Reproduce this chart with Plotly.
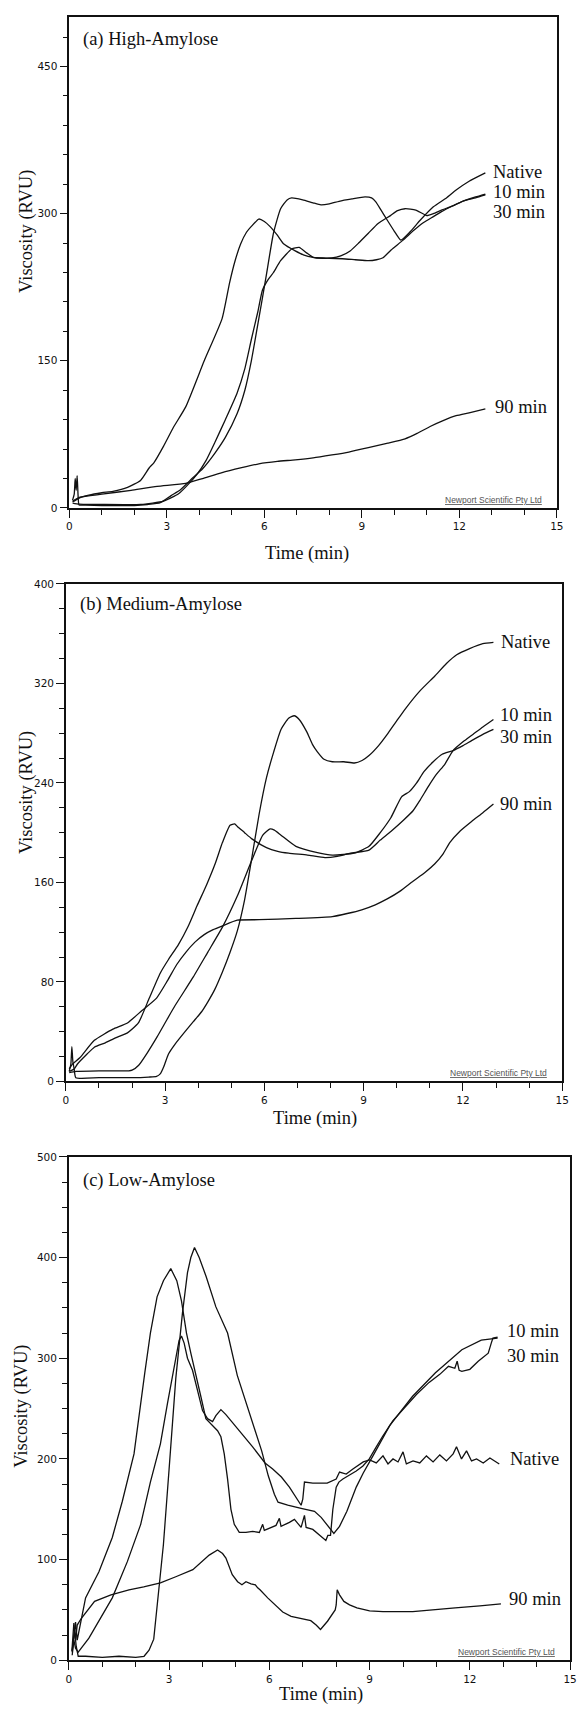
import plotly.graph_objects as go

W, H = 584, 1709

# ---------------- Panel (a) High-Amylose ----------------
A_NATIVE_T = [0.1, 0.15, 0.18, 0.21, 0.24, 0.27, 0.3, 0.5, 1.0, 2.0, 2.4, 2.8, 3.13, 3.4, 3.8, 4.1, 4.48, 4.8, 5.16, 5.4, 5.6, 5.83, 6.06, 6.28, 6.5, 6.7, 6.84, 7.18, 7.5, 7.74, 8.0, 8.3, 8.7, 9.1, 9.3, 9.43, 9.6, 9.76, 10.0, 10.2, 10.5, 10.78, 11.2, 11.6, 11.9, 12.3, 12.8]
A_NATIVE_V = [8, 14, 30, 18, 33, 12, 3, 3, 2.5, 2.5, 3.5, 5.4, 12.6, 18, 30.7, 40, 56, 72, 96, 120, 150, 193, 237, 280, 305, 314, 316, 314, 311, 309, 310, 312.6, 315, 317, 316, 312, 303, 294.5, 282, 273, 282, 292.7, 307, 316, 324, 333, 341.5]
A_10_T = [0.1, 0.3, 0.6, 1.0, 1.34, 1.79, 2.19, 2.46, 2.6, 2.9, 3.2, 3.58, 4.15, 4.7, 4.93, 5.1, 5.27, 5.45, 5.6, 5.83, 6.0, 6.17, 6.4, 6.6, 6.95, 7.2, 7.5, 8.0, 8.4, 8.8, 9.2, 9.45, 9.65, 9.9, 10.27, 10.6, 10.9, 11.2, 11.45, 11.8, 12.1, 12.5, 12.8]
A_10_V = [6, 10, 13, 15.5, 17, 21, 28, 41, 46, 63, 82, 103, 150, 193, 229.5, 252, 269, 281, 287, 294.5, 292, 287, 278, 269, 262, 258, 255.5, 254.5, 254, 253, 252, 253, 255, 263, 273, 283, 291, 297, 302, 308, 312.6, 317, 320]
A_30_T = [0.1, 0.3, 1.0, 2.2, 2.9, 3.36, 3.6, 3.92, 4.2, 4.48, 4.8, 5.16, 5.4, 5.6, 5.8, 5.94, 6.1, 6.28, 6.5, 6.84, 7.07, 7.3, 7.5, 7.8, 8.08, 8.35, 8.64, 8.9, 9.2, 9.5, 9.88, 10.1, 10.33, 10.66, 11.0, 11.2, 11.45, 11.8, 12.1, 12.5, 12.8]
A_30_V = [5, 4, 3.6, 3.6, 7, 14.5, 22, 34, 48, 67, 90, 117, 142, 171.7, 200, 222, 232, 240, 252, 264, 265.6, 260, 255.5, 254.5, 254.8, 257, 262, 270, 280, 290, 298, 303, 305, 303.6, 298, 300, 303.6, 308, 312.6, 316, 319]
A_90_T = [0.1, 0.33, 1.0, 1.9, 2.7, 3.58, 4.1, 4.7, 5.3, 5.83, 6.4, 6.95, 7.5, 8.08, 8.6, 9.2, 9.8, 10.33, 10.7, 11.1, 11.5, 11.9, 12.3, 12.8]
A_90_V = [7, 11, 14, 18, 22, 25, 30, 36, 41, 45, 47.5, 49, 51, 54, 57, 61.4, 66, 70.5, 76, 83, 89, 94, 97, 101]

# ---------------- Panel (b) Medium-Amylose ----------------
B_NATIVE_T = [0.1, 0.15, 0.18, 0.21, 0.25, 0.3, 1.0, 2.0, 2.5, 2.74, 2.85, 2.96, 3.1, 3.3, 3.6, 3.85, 4.1, 4.29, 4.5, 4.73, 4.95, 5.18, 5.4, 5.62, 5.84, 6.06, 6.28, 6.5, 6.73, 6.9, 7.05, 7.28, 7.45, 7.6, 7.8, 8.05, 8.4, 8.72, 8.95, 9.16, 9.45, 9.71, 10.0, 10.27, 10.7, 11.15, 11.5, 11.81, 12.2, 12.6, 12.92]
B_NATIVE_V = [8, 14, 28, 16, 10, 3, 3, 3, 3.5, 4, 6, 12, 22, 30, 40, 48, 56, 64, 74, 88, 103, 121, 146, 180, 215, 244, 265, 283, 292, 294, 291, 281, 271, 265, 259, 257, 257, 256, 258, 262, 270, 279, 290, 300, 314, 326, 336, 343, 348, 352, 353]
B_10_T = [0.1, 0.25, 0.35, 0.64, 0.86, 1.19, 1.5, 1.86, 2.19, 2.52, 2.85, 3.1, 3.4, 3.7, 3.96, 4.25, 4.51, 4.73, 4.96, 5.1, 5.18, 5.4, 5.62, 6.06, 6.4, 6.73, 7.3, 7.83, 8.2, 8.6, 9.16, 9.5, 9.82, 10.2, 10.49, 10.7, 10.95, 11.2, 11.45, 11.7, 12.0, 12.3, 12.6, 12.92]
B_10_V = [8, 10, 14, 22, 27.5, 31, 35, 39, 47, 67, 87, 98, 110, 125, 141, 158, 175, 192, 206, 207, 205, 200, 195, 188, 185, 183.5, 182, 180, 181, 183.5, 186, 194, 201, 210, 217.6, 226, 237, 247, 255, 266, 273, 279, 285, 291]
B_30_T = [0.1, 0.3, 1.0, 1.9, 2.0, 2.2, 2.46, 2.76, 3.06, 3.3, 3.85, 4.29, 4.73, 5.18, 5.62, 5.95, 6.17, 6.3, 6.5, 6.95, 7.6, 8.05, 8.72, 9.16, 9.5, 9.82, 10.15, 10.38, 10.6, 10.82, 11.1, 11.37, 11.7, 12.0, 12.26, 12.6, 12.92]
B_30_V = [7, 8, 8.5, 8.5, 9, 13, 23, 36, 50, 61, 84, 104, 124, 149, 178, 198, 203, 202, 198, 189, 184, 182, 183.5, 189, 200, 212, 229, 233, 240, 249, 257, 263, 266, 270, 274, 279, 283]
B_90_T = [0.1, 0.2, 0.42, 0.86, 1.42, 1.86, 2.3, 2.74, 3.07, 3.35, 3.63, 3.9, 4.18, 4.45, 4.73, 5.18, 5.84, 6.95, 8.05, 8.5, 8.94, 9.35, 9.71, 10.1, 10.49, 10.85, 11.15, 11.4, 11.6, 11.9, 12.26, 12.6, 12.92]
B_90_V = [10, 14, 19, 33, 42, 47, 57, 67, 81, 94, 104, 112, 118, 122, 125, 129.6, 130, 131, 132.5, 135, 138, 142, 146.7, 153, 161, 168, 175, 183, 192, 201, 209, 216, 223]

# ---------------- Panel (c) Low-Amylose ----------------
C_NATIVE_T = [0.1, 0.15, 0.2, 0.28, 0.6, 1.0, 1.3, 1.75, 2.15, 2.44, 2.74, 2.95, 3.15, 3.3, 3.37, 3.45, 3.55, 3.7, 3.85, 4.0, 4.15, 4.3, 4.4, 4.55, 4.7, 5.0, 5.2, 5.5, 5.87, 6.1, 6.36, 6.6, 6.95, 7.0, 7.05, 7.3, 7.73, 8.0, 8.1, 8.3, 8.5, 8.7, 8.81, 9.0, 9.2, 9.4, 9.55, 9.7, 9.85, 10.0, 10.1, 10.3, 10.5, 10.7, 10.9, 11.1, 11.3, 11.5, 11.6, 11.75, 11.9, 12.05, 12.2, 12.4, 12.6, 12.88]
C_NATIVE_V = [5, 20, 12, 8, 22, 45, 62, 98, 135, 177, 215, 255, 290, 318, 322, 315, 300, 288, 268, 248, 240, 237, 243, 249, 244, 232, 224, 212, 196, 190, 182, 172, 154, 160, 177, 176, 176, 180, 187, 185, 190, 195, 197, 199, 196, 203, 195, 200, 197, 207, 195, 198, 196, 203, 197, 204, 198, 205, 212, 200, 208, 198, 200, 196, 201, 195]
C_10_T = [0.1, 0.17, 0.22, 0.28, 0.5, 1.0, 1.5, 2.0, 2.25, 2.4, 2.54, 2.69, 2.83, 3.0, 3.2, 3.4, 3.55, 3.65, 3.76, 3.9, 4.11, 4.4, 4.75, 5.04, 5.38, 5.77, 5.97, 6.15, 6.26, 6.55, 6.95, 7.35, 7.55, 7.78, 7.93, 8.1, 8.32, 8.6, 8.81, 9.1, 9.6, 10.28, 10.97, 11.76, 12.34, 12.83]
C_10_V = [10, 30, 14, 4, 4, 3, 4, 3, 4, 10, 21, 70, 115, 190, 280, 345, 385, 400, 410, 400, 381, 351, 325, 283, 247, 208, 183, 165, 157, 154, 151, 148, 142, 133, 126, 133, 148, 172, 186, 203, 233, 262, 285.5, 308.5, 318, 320]
C_30_T = [0.1, 0.2, 0.25, 0.5, 0.9, 1.3, 1.6, 1.95, 2.27, 2.44, 2.64, 2.83, 3.05, 3.23, 3.37, 3.52, 3.65, 3.8, 3.95, 4.1, 4.3, 4.45, 4.55, 4.65, 4.75, 4.85, 4.95, 5.1, 5.3, 5.5, 5.7, 5.8, 5.85, 6.0, 6.2, 6.3, 6.35, 6.6, 6.75, 6.85, 6.95, 7.05, 7.1, 7.3, 7.5, 7.69, 7.75, 7.83, 7.9, 8.0, 8.08, 8.2, 8.4, 8.6, 8.8, 8.99, 9.2, 9.4, 9.7, 10.09, 10.4, 10.78, 11.1, 11.36, 11.55, 11.62, 11.68, 11.76, 12.0, 12.25, 12.45, 12.55, 12.64, 12.69, 12.83]
C_30_V = [8, 38, 20, 62, 88, 122, 158, 205, 285, 325, 361, 377, 389, 377, 357, 325, 305, 285, 262, 240, 233, 228, 222, 205, 180, 150, 135, 127, 127, 128, 127, 135, 129, 131, 134, 141, 133, 137, 140, 136, 132, 144, 132, 130, 124, 119, 124, 124, 150, 172, 177, 180, 184, 188, 193, 200, 212, 223, 238, 253, 264, 276, 284, 292, 290, 297, 288, 287, 289, 297, 302, 305, 315, 320, 321]
C_90_T = [0.09, 0.15, 0.2, 0.25, 0.38, 0.77, 1.26, 1.8, 2.24, 2.74, 3.2, 3.71, 4.2, 4.45, 4.6, 4.7, 4.89, 5.05, 5.18, 5.3, 5.45, 5.58, 5.65, 5.72, 5.95, 6.17, 6.4, 6.65, 7.0, 7.24, 7.4, 7.53, 7.74, 7.97, 8.0, 8.03, 8.1, 8.23, 8.4, 8.62, 9.0, 9.4, 10.29, 11.0, 11.56, 12.3, 12.93]
C_90_V = [9, 37, 20, 35, 42, 58.5, 65, 70, 73, 77, 83, 90, 104.5, 109.5, 106, 101.5, 85, 78, 75, 78, 76, 75, 72, 70, 62, 55, 48, 43.7, 41, 39.4, 35, 30.6, 38.8, 50, 55, 70, 65, 58.5, 55, 52, 49, 48.3, 48.3, 50, 52, 54, 56]

# series labels and their anchor values
A_LABELS = ["Native", "10 min", "30 min", "90 min"]
A_LABEL_T = [12.98, 12.98, 12.98, 13.02]
A_LABEL_V = [342, 322, 302, 103]
B_LABELS = ["Native", "10 min", "30 min", "90 min"]
B_LABEL_T = [13.09, 13.05, 13.05, 13.05]
B_LABEL_V = [353, 295, 277, 223]
C_LABELS = ["10 min", "30 min", "Native", "90 min"]
C_LABEL_T = [13.04, 13.04, 13.15, 13.1]
C_LABEL_V = [327, 302, 200, 61]

PANEL_TITLES = ["(a) High-Amylose", "(b) Medium-Amylose", "(c) Low-Amylose"]
Y_RANGES = [[0, 500], [0, 400], [0, 500]]
Y_DTICK = [150, 80, 100]
Y_MINOR = [30, 20, 25]
X_TICKS = [0, 3, 6, 9, 12, 15]

# pixel layout of each panel: left, right, top, bottom
PANELS_PX = [(67.5, 563.5, 11.5, 505.5), (64, 569, 582, 1083), (67, 577, 1159, 1666)]
YTITLE_PX = [(24, 227), (24, 792), (18, 1410)]
XTITLE_PX = [(309, 551), (317, 1120), (324, 1700)]
SMOOTH = [True, True, False]

series = [
    [(A_NATIVE_T, A_NATIVE_V), (A_10_T, A_10_V), (A_30_T, A_30_V), (A_90_T, A_90_V)],
    [(B_NATIVE_T, B_NATIVE_V), (B_10_T, B_10_V), (B_30_T, B_30_V), (B_90_T, B_90_V)],
    [(C_NATIVE_T, C_NATIVE_V), (C_10_T, C_10_V), (C_30_T, C_30_V), (C_90_T, C_90_V)],
]
labels = [(A_LABELS, A_LABEL_T, A_LABEL_V), (B_LABELS, B_LABEL_T, B_LABEL_V), (C_LABELS, C_LABEL_T, C_LABEL_V)]
names = ["Native", "10 min", "30 min", "90 min"]

SERIF = "Liberation Serif, Times New Roman, serif"
SANS = "DejaVu Sans, Verdana, sans-serif"

fig = go.Figure()
annotations = []
layout = {}

for i in range(3):
    sfx = "" if i == 0 else str(i + 1)
    xa, ya = "x" + sfx, "y" + sfx
    L, R, T, B = PANELS_PX[i]
    for (t, v), nm in zip(series[i], names):
        line = dict(color="#111111", width=1.3)
        if SMOOTH[i]:
            line.update(shape="spline", smoothing=0.5)
        fig.add_trace(go.Scatter(x=t, y=v, mode="lines", name=nm, xaxis=xa, yaxis=ya,
                                 line=line, showlegend=False, hoverinfo="skip"))
    layout["xaxis" + sfx] = dict(
        domain=[L / W, R / W], anchor=ya, range=[0, 15], tickvals=X_TICKS,
        ticks="outside", ticklen=8, tickwidth=1.3, tickcolor="#111",
        minor=dict(dtick=1, ticklen=5, ticks="outside", tickcolor="#111", tickwidth=1.2),
        showline=True, linecolor="#111", linewidth=1.6, mirror=True,
        showgrid=False, zeroline=False,
        tickfont=dict(family=SANS, size=10.5, color="#111"),
    )
    layout["yaxis" + sfx] = dict(
        domain=[1 - B / H, 1 - T / H], anchor=xa, range=Y_RANGES[i], tick0=0, dtick=Y_DTICK[i],
        ticks="outside", ticklen=8, tickwidth=1.3, tickcolor="#111",
        minor=dict(dtick=Y_MINOR[i], ticklen=5, ticks="outside", tickcolor="#111", tickwidth=1.2),
        showline=True, linecolor="#111", linewidth=1.6, mirror=True,
        showgrid=False, zeroline=False,
        tickfont=dict(family=SANS, size=10.5, color="#111"),
    )
    # panel title
    annotations.append(dict(text=PANEL_TITLES[i], xref=xa, yref=ya, x=0.36,
                            y=Y_RANGES[i][1] * (0.954 if i != 1 else 0.958),
                            xanchor="left", yanchor="middle", showarrow=False,
                            font=dict(family=SERIF, size=18.5, color="#111")))
    # series labels
    for txt, lt, lv in zip(*labels[i]):
        annotations.append(dict(text=txt, xref=xa, yref=ya, x=lt, y=lv, xanchor="left",
                                yanchor="middle", showarrow=False,
                                font=dict(family=SERIF, size=18.5, color="#111")))
    # instrument credit
    annotations.append(dict(text="<u>Newport Scientific Pty Ltd</u>", xref=xa, yref=ya, x=14.6,
                            y=Y_RANGES[i][1] * 0.016, xanchor="right", yanchor="middle",
                            showarrow=False, font=dict(family="Liberation Sans, Arial, sans-serif",
                                                       size=8.5, color="#555")))
    # axis titles
    yx, yy = YTITLE_PX[i]
    annotations.append(dict(text="Viscosity (RVU)", xref="paper", yref="paper", x=yx / W,
                            y=1 - yy / H, xanchor="center", yanchor="middle", textangle=-90,
                            showarrow=False, font=dict(family=SERIF, size=18.5, color="#111")))
    tx, ty = XTITLE_PX[i]
    annotations.append(dict(text="Time (min)", xref="paper", yref="paper", x=tx / W,
                            y=1 - ty / H, xanchor="center", yanchor="middle",
                            showarrow=False, font=dict(family=SERIF, size=18.5, color="#111")))

fig.update_layout(width=W, height=H, margin=dict(l=0, r=0, t=0, b=0),
                  paper_bgcolor="white", plot_bgcolor="white",
                  annotations=annotations, showlegend=False, **layout)

fig.write_html("out.html")
